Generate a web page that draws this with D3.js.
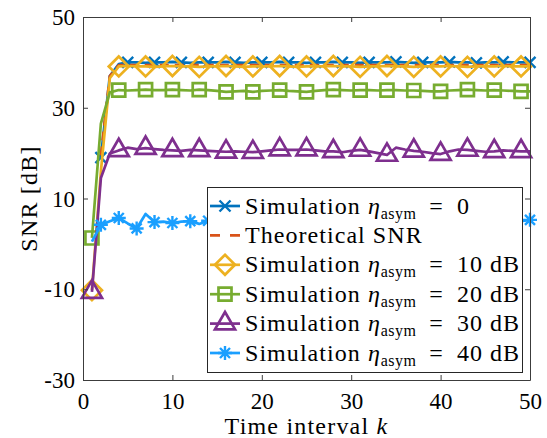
<!DOCTYPE html>
<html lang="en">
<head>
<meta charset="UTF-8">
<title>SNR vs time interval</title>
<script src="https://d3js.org/d3.v7.min.js"></script>
<style>
  html, body { margin: 0; padding: 0; background: #fff; }
  svg text { font-family: "Liberation Serif", "Times New Roman", serif; fill: #000; }
</style>
</head>
<body>
<div id="chart"></div>
<script>
// time index k = 1..50
const kAll = d3.range(1, 51);

// simulation eta_asym = 0 (starts at k = 2)
const sim0 = [19.0, 37.0, 39.6, 40.0, 40.0, 39.9, 40.0, 40.0, 40.1, 40.0,
  39.9, 40.0, 40.0, 40.0, 40.1, 40.0, 39.9, 40.0, 40.0, 40.0,
  40.1, 40.0, 40.0, 39.9, 40.0, 40.0, 40.1, 40.0, 40.0, 39.9,
  40.0, 40.0, 40.0, 40.1, 40.0, 39.9, 40.0, 40.0, 40.0, 40.1,
  40.0, 40.0, 39.9, 40.0, 40.0, 40.1, 40.0, 40.0, 40.0];
// theoretical SNR (starts at k = 2)
const theory = [19.5, 37.0, 39.4, 39.4, 39.4, 39.4, 39.4, 39.4, 39.4, 39.4,
  39.4, 39.4, 39.4, 39.4, 39.4, 39.4, 39.4, 39.4, 39.4, 39.4,
  39.4, 39.4, 39.4, 39.4, 39.4, 39.4, 39.4, 39.4, 39.4, 39.4,
  39.4, 39.4, 39.4, 39.4, 39.4, 39.4, 39.4, 39.4, 39.4, 39.4,
  39.4, 39.4, 39.4, 39.4, 39.4, 39.4, 39.4, 39.4, 39.4];
const sim10 = [-10.2, 16.0, 36.5, 39.1, 39.2, 39.1, 39.1, 39.0, 39.1, 39.2,
  39.1, 39.1, 39.0, 39.1, 39.1, 39.2, 39.1, 39.0, 39.1, 39.1,
  39.1, 39.2, 39.1, 39.0, 39.1, 39.1, 39.1, 39.2, 39.1, 39.1,
  39.0, 39.1, 39.1, 39.2, 39.1, 39.1, 39.0, 39.1, 39.1, 39.1,
  39.2, 39.1, 39.0, 39.1, 39.1, 39.1, 39.2, 39.1, 39.1, 39.1];
const sim20 = [1.3, 26.5, 33.4, 33.9, 33.8, 33.9, 34.0, 33.9, 33.9, 34.0,
  33.9, 33.8, 34.0, 33.9, 33.7, 33.5, 33.6, 33.7, 33.5, 33.7,
  33.8, 33.9, 33.7, 33.6, 33.5, 33.7, 33.9, 34.0, 33.9, 33.8,
  33.9, 33.9, 33.8, 33.9, 33.9, 33.8, 33.8, 33.7, 33.6, 33.6,
  33.8, 33.9, 34.0, 33.9, 33.8, 33.9, 33.8, 33.7, 33.6, 33.6];
const sim30 = [-10.6, 14.5, 19.9, 20.6, 21.2, 20.9, 21.1, 20.9, 20.7, 20.6,
  20.5, 20.7, 20.6, 20.5, 20.4, 20.3, 20.4, 20.3, 20.2, 20.4,
  20.6, 20.8, 20.7, 20.7, 20.8, 20.6, 20.4, 20.4, 20.2, 20.5,
  20.7, 20.4, 20.0, 19.6, 21.2, 20.8, 20.5, 20.3, 20.0, 19.8,
  20.4, 20.8, 20.7, 20.5, 20.3, 20.4, 20.6, 20.5, 20.4, 20.4];
const sim40 = [0.5, 4.2, 5.0, 5.7, 4.5, 3.4, 6.6, 4.8, 4.9, 4.6,
  4.9, 5.0, 4.4, 5.1, 4.8, 5.2, 4.7, 5.0, 5.3, 4.9,
  4.6, 5.1, 5.0, 4.8, 5.2, 4.9, 5.0, 4.7, 5.1, 5.3,
  4.8, 4.9, 5.0, 5.2, 4.7, 5.0, 4.9, 5.1, 4.8, 5.0,
  5.2, 4.9, 4.7, 5.0, 5.1, 4.9, 5.0, 5.2, 5.0, 5.3];

const xTicks = [0, 10, 20, 30, 40, 50];
const yTicks = [-30, -10, 10, 30, 50];

const series = [
  { name: "sim0", label: ["Simulation ", "0"], k: kAll.slice(1), v: sim0, color: "#0072BD", marker: "x", every: 3, dash: null },
  { name: "theory", label: ["Theoretical SNR"], k: kAll.slice(1), v: theory, color: "#D95319", marker: null, every: 0, dash: "9,6" },
  { name: "sim10", label: ["Simulation ", "10 dB"], k: kAll, v: sim10, color: "#EDB120", marker: "diamond", every: 3, dash: null },
  { name: "sim20", label: ["Simulation ", "20 dB"], k: kAll, v: sim20, color: "#77AC30", marker: "square", every: 3, dash: null },
  { name: "sim30", label: ["Simulation ", "30 dB"], k: kAll, v: sim30, color: "#7E2F8E", marker: "triangle", every: 3, dash: null },
  { name: "sim40", label: ["Simulation ", "40 dB"], k: kAll, v: sim40, color: "#1A9FFF", marker: "star", every: 2, dash: null, start: 1 }
];

const W = 547, H = 438;
const mLeft = 83, mRight = 530, mTop = 17, mBottom = 380;

const svg = d3.select("#chart").append("svg")
  .attr("width", W).attr("height", H)
  .attr("font-family", '"Liberation Serif", serif');

const x = d3.scaleLinear().domain([0, 50]).range([mLeft, mRight]);
const y = d3.scaleLinear().domain([-30, 50]).range([mBottom, mTop]);

// markers as paths centred on 0,0
function markerPath(type) {
  if (type === "x") return "M-5.5,-5.5L5.5,5.5M-5.5,5.5L5.5,-5.5";
  if (type === "diamond") return "M0,-10L10,0L0,10L-10,0Z";
  if (type === "square") return "M-6.5,-6.5H6.5V6.5H-6.5Z";
  if (type === "triangle") return d3.symbol(d3.symbolTriangle, 175)();
  if (type === "star") return "M-7,0H7M0,-7V7M-5,-5L5,5M-5,5L5,-5";
  return "";
}

const plot = svg.append("g");
const line = d3.line().x(d => x(d[0])).y(d => y(d[1]));

series.forEach(s => {
  const pts = s.k.map((k, i) => [k, s.v[i]]);
  plot.append("path")
    .attr("d", line(pts))
    .attr("fill", "none")
    .attr("stroke", s.color)
    .attr("stroke-width", 2.7)
    .attr("stroke-linejoin", "round")
    .attr("stroke-dasharray", s.dash);
  if (s.marker) {
    const first = s.start || 0;
    const mk = pts.filter((p, i) => i >= first && (i - first) % s.every === 0);
    plot.selectAll(null).data(mk).enter().append("path")
      .attr("d", markerPath(s.marker))
      .attr("transform", d => `translate(${x(d[0])},${y(d[1])})`)
      .attr("fill", "none")
      .attr("stroke", s.color)
      .attr("stroke-width", s.marker === "x" || s.marker === "star" ? 2.4 : 2.7);
  }
});

// axes, box with inward ticks
const axisColor = "#3c3c3c";
const gx = svg.append("g").attr("transform", `translate(0,${mBottom})`)
  .call(d3.axisBottom(x).tickValues(xTicks).tickSize(-5).tickSizeOuter(0).tickPadding(9).tickFormat(d => String(d)));
const gy = svg.append("g").attr("transform", `translate(${mLeft},0)`)
  .call(d3.axisLeft(y).tickValues(yTicks).tickSize(-5).tickSizeOuter(0).tickPadding(8).tickFormat(d => String(d)));
const gx2 = svg.append("g").attr("transform", `translate(0,${mTop})`)
  .call(d3.axisTop(x).tickValues(xTicks).tickSize(-5).tickSizeOuter(0).tickFormat(""));
const gy2 = svg.append("g").attr("transform", `translate(${mRight},0)`)
  .call(d3.axisRight(y).tickValues(yTicks).tickSize(-5).tickSizeOuter(0).tickFormat(""));

[gx, gy, gx2, gy2].forEach(g => {
  g.attr("font-family", null);
  g.select(".domain").attr("stroke", axisColor).attr("stroke-width", 1);
  g.selectAll(".tick line").attr("stroke", axisColor);
  g.selectAll(".tick text")
    .attr("fill", "#000")
    .style("font-size", "23px");
});
gx.selectAll(".tick text").attr("dy", "0.85em");
gy.selectAll(".tick text").attr("dy", "0.33em");

// axis titles
const xl = svg.append("text")
  .attr("x", (mLeft + mRight) / 2).attr("y", 434)
  .attr("text-anchor", "middle")
  .style("font-size", "24px").style("letter-spacing", "1.2px");
xl.append("tspan").text("Time interval ");
xl.append("tspan").attr("font-style", "italic").text("k");

svg.append("text")
  .attr("transform", `translate(37,${(mTop + mBottom) / 2}) rotate(-90)`)
  .attr("text-anchor", "middle")
  .style("font-size", "24px").style("letter-spacing", "1.2px")
  .text("SNR [dB]");

// legend
const lg = svg.append("g");
lg.append("rect")
  .attr("x", 207.5).attr("y", 187.5)
  .attr("width", 315).attr("height", 185)
  .attr("fill", "#fff").attr("stroke", "#262626").attr("stroke-width", 1);

series.forEach((s, i) => {
  const cy = 206 + i * 29.4;
  lg.append("line")
    .attr("x1", 210).attr("x2", 240).attr("y1", cy).attr("y2", cy)
    .attr("stroke", s.color).attr("stroke-width", 2.7)
    .attr("stroke-dasharray", s.dash ? "10,10" : null);
  if (s.marker) {
    lg.append("path")
      .attr("d", markerPath(s.marker))
      .attr("transform", `translate(225,${cy})`)
      .attr("fill", "none").attr("stroke", s.color)
      .attr("stroke-width", s.marker === "x" || s.marker === "star" ? 2.4 : 2.7);
  }
  const t = lg.append("text")
    .attr("x", 245).attr("y", cy + 7.5)
    .style("font-size", "24px").style("letter-spacing", "1.05px");
  t.append("tspan").text(s.label[0]);
  if (s.label.length > 1) {
    t.append("tspan").attr("font-style", "italic").text("η");
    t.append("tspan").attr("font-size", "16px").attr("dy", 5).style("letter-spacing", "0.4px").text("asym");
    t.append("tspan").attr("dy", -5).text("\u2002=\u2002" + s.label[1]);
  }
});
</script>
</body>
</html>
